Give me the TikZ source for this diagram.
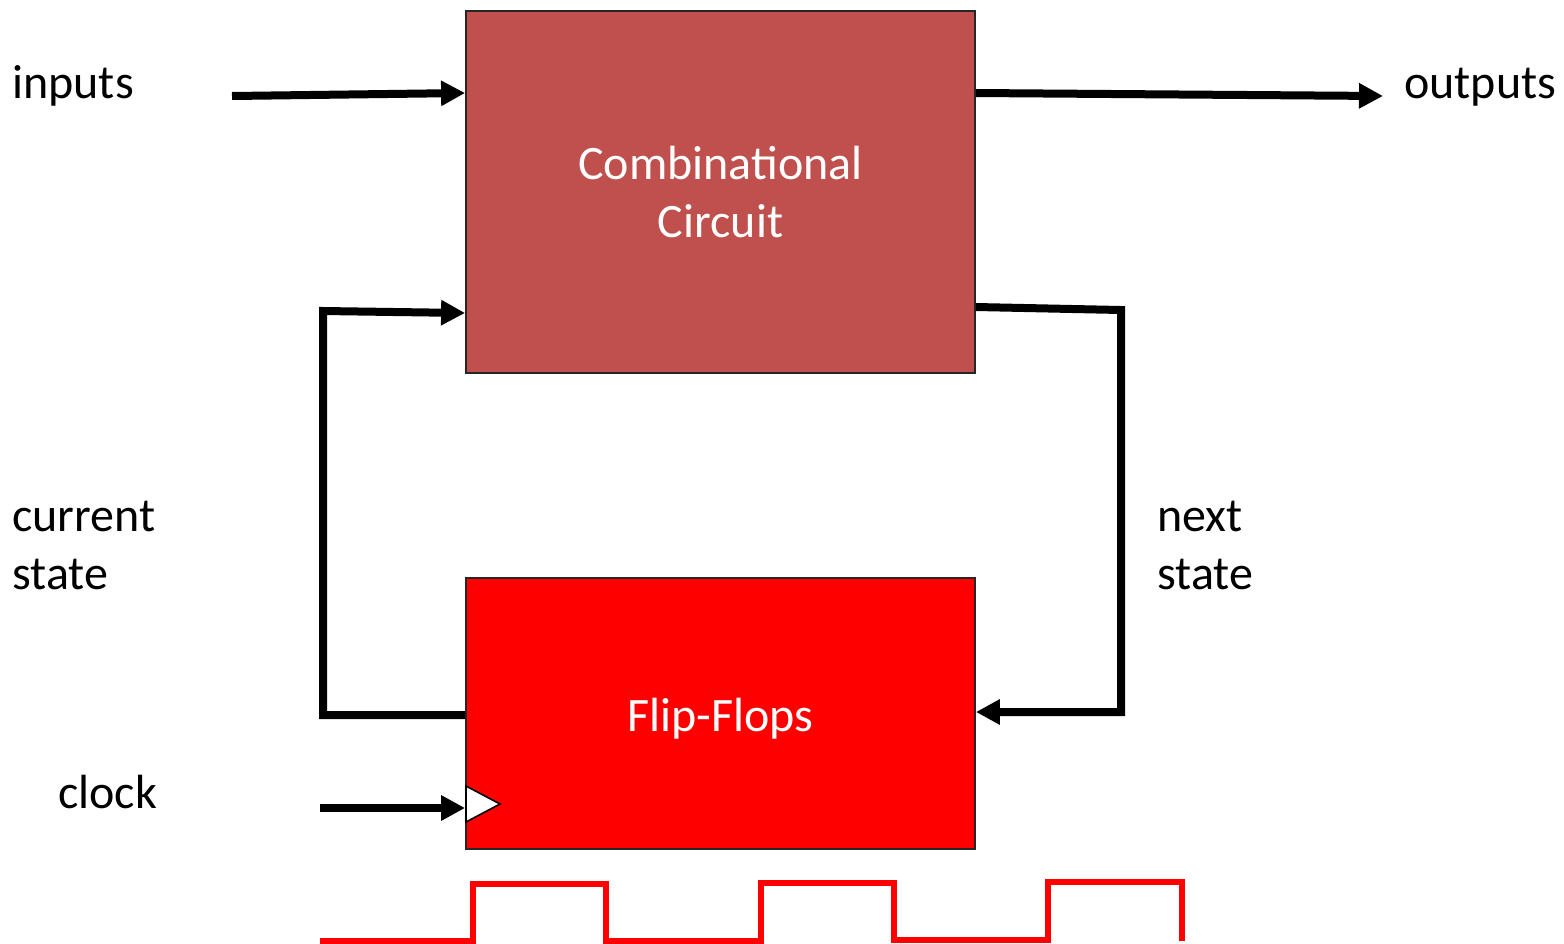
\documentclass[tikz,border=0pt]{standalone}
\usepackage{fontspec}
\setmainfont{Carlito}
\usetikzlibrary{arrows.meta,calc}
\definecolor{combred}{HTML}{C0504D}
\begin{document}
\begin{tikzpicture}[x=0.5pt,y=-0.5pt,
  wire/.style={line width=4pt},
  arr/.style={wire,-{Triangle[length=12pt,width=12pt]}},
  box/.style={draw=black!85,line width=0.9pt,minimum width=254.5pt,inner sep=0pt,
    text=white,align=center,font=\fontsize{24}{29}\selectfont},
  lbl/.style={anchor=base west,align=left,inner sep=0pt,font=\fontsize{24}{29}\selectfont},
  clkwave/.style={red,line width=2.8pt}]
\useasboundingbox (0,0) rectangle (1564,943);

% blocks
\node[box,fill=combred,minimum height=181pt] (comb) at (720.5,192) {Combinational\\Circuit};
\node[box,fill=red,minimum height=135.5pt] (ff) at (720.5,713.5)
  {\raisebox{-2.5pt}[\height][\depth]{Flip-Flops}};

% labels (base anchor sits on the last line)
\node[lbl] (lin) at (12,98) {inputs};
\node[lbl] (lout) at (1404,98) {outputs};
\node[lbl] (lcur) at (12,589) {current\\state};
\node[lbl] (lnext) at (1157,589) {next\\state};
\node[lbl] (lclk) at (58,808) {clock};

% free wire ends
\coordinate (inA) at (232,96);
\coordinate (inB) at (466,93);
\coordinate (outA) at (975,93);
\coordinate (outB) at (1383,96);
\coordinate (curA) at (466,715);
\coordinate (curB) at (466,313);
\coordinate (nxtA) at (975,307);
\coordinate (nxtB) at (975,712);
\coordinate (clkA) at (320,808);

% data wires
\draw[arr] (inA) -- (comb.west |- inB);
\draw[arr] (comb.east |- outA) -- (outB);
\draw[arr] (ff.west |- curA) -- (323,715) -- (323,311) -- (comb.west |- curB);
\draw[arr] (comb.east |- nxtA) -- (1121,310) -- (1121,712) -- (ff.east |- nxtB);

% clock input with edge marker
\draw[fill=white,draw=black,line width=0.8pt] (466,786) -- (500,804) -- (466,822) -- cycle;
\draw[arr] (clkA) -- (ff.west |- clkA);

% clock waveform
\draw[clkwave] (320,941) -- (473,941) -- (473,884) -- (606,884) -- (606,941)
  -- (761,941) -- (761,883) -- (894,883) -- (894,940) -- (1048,940)
  -- (1048,882) -- (1182,882) -- (1182,941);
\end{tikzpicture}
\end{document}
